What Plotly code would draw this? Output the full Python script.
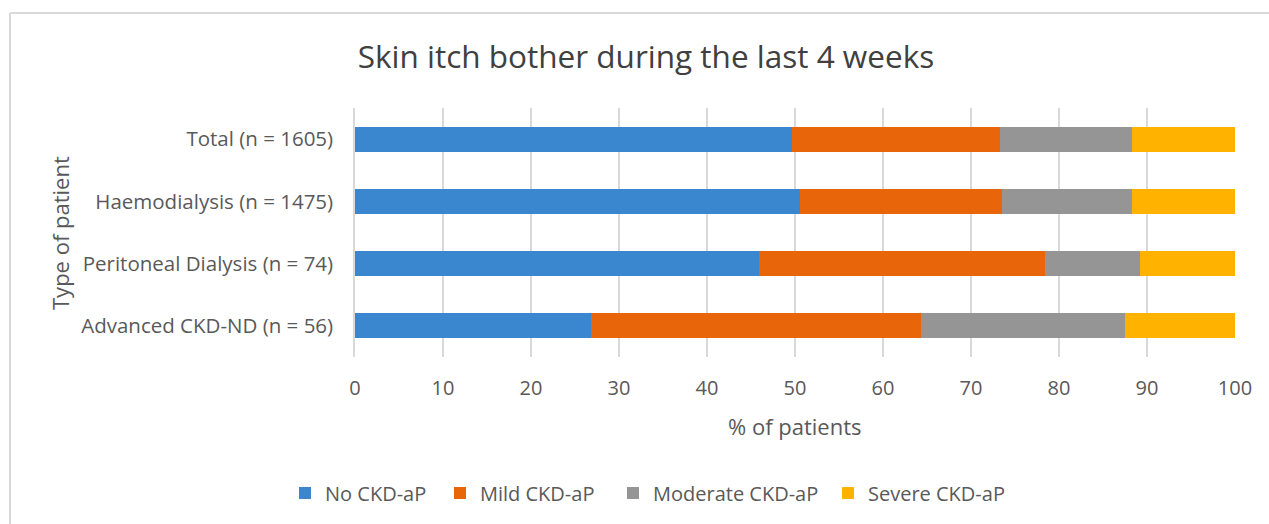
import plotly.graph_objects as go

categories = ["Total (n = 1605)", "Haemodialysis (n = 1475)",
              "Peritoneal Dialysis (n = 74)", "Advanced CKD-ND (n = 56)"]
series_names = ["No CKD-aP", "Mild CKD-aP", "Moderate CKD-aP", "Severe CKD-aP"]
no_ckd = [49.7, 50.6, 45.9, 26.8]
mild_ckd = [23.6, 22.9, 32.5, 37.5]
moderate_ckd = [15.0, 14.8, 10.8, 23.2]
severe_ckd = [11.7, 11.7, 10.8, 12.5]
x_ticks = [0, 10, 20, 30, 40, 50, 60, 70, 80, 90, 100]

colors = ["#3b87cf", "#e8650a", "#959595", "#ffb300"]
FONT = "Open Sans"
W, H = 1269, 524
L, R, T, B = 355, 34, 107.5, 166.5
PW, PH = W - L - R, H - T - B

# target left edge (px) of each legend swatch
legend_swatch_x = [300, 455, 628, 843]
legend_names = ["legend", "legend2", "legend3", "legend4"]

fig = go.Figure()
for name, vals, col, lg in zip(series_names, [no_ckd, mild_ckd, moderate_ckd, severe_ckd],
                               colors, legend_names):
    fig.add_trace(go.Bar(y=categories, x=vals, name=name, orientation="h", legend=lg,
                         marker=dict(color=col, line=dict(width=0))))

legend_layout = {}
for lg, sx in zip(legend_names, legend_swatch_x):
    legend_layout[lg] = dict(orientation="h", x=(sx - 15) / W, xanchor="left", xref="container",
                             y=1 - 493 / H, yanchor="middle", yref="container",
                             font=dict(size=20, color="#595959"),
                             bgcolor="rgba(0,0,0,0)")

fig.update_layout(
    width=W, height=H,
    barmode="stack", bargap=0.6,
    margin=dict(l=L, r=R, t=T, b=B, autoexpand=False),
    paper_bgcolor="white", plot_bgcolor="white",
    font=dict(family=FONT, color="#595959"),
    title=dict(text="Skin itch bother during the last 4 weeks",
               font=dict(family=FONT, size=31.5, color="#404040"),
               x=646 / W, xanchor="center", xref="container",
               y=1 - 57 / H, yanchor="middle", yref="container"),
    xaxis=dict(range=[0, 100], tickvals=x_ticks, showgrid=True,
               gridcolor="#d9d9d9", gridwidth=1.5, zeroline=False, showline=False,
               tickfont=dict(size=20, color="#595959"), ticks="", ticklabelstandoff=17),
    yaxis=dict(autorange="reversed", showline=True, linecolor="#d9d9d9", linewidth=1.5,
               showgrid=False, ticks="", tickfont=dict(size=20.5, color="#595959"),
               ticklabelstandoff=16),
    showlegend=True,
    annotations=[
        dict(text="% of patients", xref="paper", yref="paper",
             x=0.5, y=(H - B - 427) / PH, xanchor="center", yanchor="middle",
             showarrow=False, font=dict(size=22, color="#595959")),
        dict(text="Type of patient", xref="paper", yref="paper",
             x=(60 - L) / PW, y=(H - B - 233) / PH, xanchor="center", yanchor="middle",
             textangle=-90, showarrow=False, font=dict(size=22, color="#595959")),
    ],
    shapes=[
        dict(type="line", xref="paper", yref="paper",
             x0=(10 - L) / PW, x1=(W + 20 - L) / PW,
             y0=(H - B - 12) / PH, y1=(H - B - 12) / PH,
             line=dict(color="#d9d9d9", width=2), layer="below"),
        dict(type="line", xref="paper", yref="paper",
             x0=(10 - L) / PW, x1=(10 - L) / PW,
             y0=(H - B - 12) / PH, y1=(H - B - H - 20) / PH,
             line=dict(color="#d9d9d9", width=2), layer="below"),
    ],
)
fig.update_layout(**legend_layout)

fig.write_html("out.html", config={"displayModeBar": False},
               post_script="document.body.style.margin='0';document.body.style.overflow='hidden';")
